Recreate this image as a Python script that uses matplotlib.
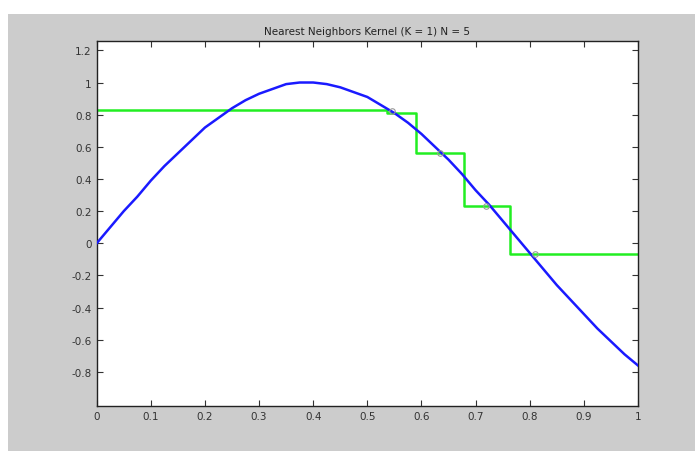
import matplotlib.pyplot as plt
from matplotlib.patches import Rectangle

# blue curve, every 0.025
curve_x = [i * 0.025 for i in range(41)]
curve_y = [0.00, 0.10, 0.20, 0.29, 0.39, 0.48, 0.56, 0.64, 0.72, 0.78,
           0.84, 0.89, 0.93, 0.96, 0.99, 1.00, 1.00, 0.99, 0.97, 0.94,
           0.91, 0.86, 0.81, 0.75, 0.68, 0.60, 0.52, 0.43, 0.33, 0.24,
           0.14, 0.04, -0.06, -0.16, -0.26, -0.35, -0.44, -0.53, -0.61, -0.69,
           -0.76]

# nearest neighbour step estimate
step_edges = [0.0, 0.536, 0.59, 0.679, 0.763, 1.0]
step_levels = [0.83, 0.81, 0.56, 0.23, -0.065]

# sample points
pts_x = [0.545, 0.635, 0.72, 0.81]
pts_y = [0.82, 0.56, 0.23, -0.065]

xticks = [0, 0.1, 0.2, 0.3, 0.4, 0.5, 0.6, 0.7, 0.8, 0.9, 1]
xlabels = ['0', '0.1', '0.2', '0.3', '0.4', '0.5', '0.6', '0.7', '0.8', '0.9', '1']
yticks = [-0.8, -0.6, -0.4, -0.2, 0, 0.2, 0.4, 0.6, 0.8, 1, 1.2]
ylabels = ['-0.8', '-0.6', '-0.4', '-0.2', '0', '0.2', '0.4', '0.6', '0.8', '1', '1.2']

fig = plt.figure(figsize=(6.95, 4.52), dpi=100)
fig.patch.set_facecolor('white')
# gray MATLAB window background
fig.patches.append(Rectangle((8 / 695, 0), 1, 1 - 15 / 452, transform=fig.transFigure,
                             facecolor='#cccccc', edgecolor='none', zorder=-10))

ax = fig.add_axes([96.7 / 695, 1 - 406.7 / 452, (638 - 96.7) / 695, (406.7 - 41.7) / 452])
ax.set_facecolor('white')

ax.plot(curve_x, curve_y, color='#1a1aff', lw=1.8, zorder=3)

sx, sy = [], []
for i, lev in enumerate(step_levels):
    sx += [step_edges[i], step_edges[i + 1]]
    sy += [lev, lev]
ax.plot(sx, sy, color='#22ee22', lw=1.8, zorder=2)
ax.plot(pts_x, pts_y, 'o', ms=4, mfc='none', mec='#999999', mew=0.8, zorder=4)

ax.set_xlim(0, 1)
ax.set_ylim(-1.01, 1.26)
ax.set_xticks(xticks)
ax.set_xticklabels(xlabels)
ax.set_yticks(yticks)
ax.set_yticklabels(ylabels)
ax.tick_params(direction='in', top=True, right=True, length=4, width=0.8,
               labelsize=7.5, labelcolor='#333333', colors='#333333')
for s in ax.spines.values():
    s.set_linewidth(1.0)
    s.set_color('#222222')

ax.set_title('Nearest Neighbors Kernel (K = 1) N = 5', fontsize=7.5, color='#222222', pad=5)

fig.savefig('out.png', dpi=100, facecolor=fig.get_facecolor())
